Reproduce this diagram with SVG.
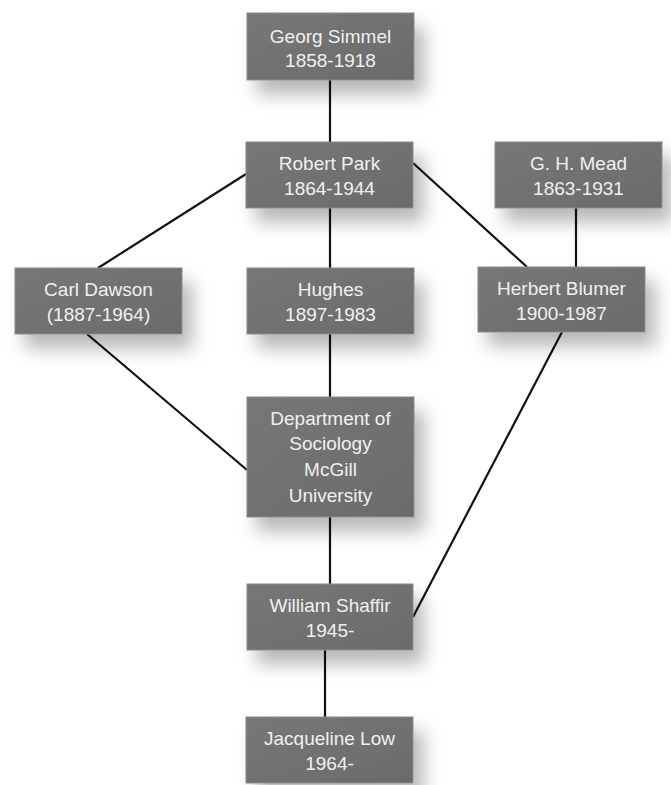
<svg xmlns="http://www.w3.org/2000/svg" width="671" height="785" viewBox="0 0 671 785">
<style>
.box{fill:url(#g);stroke:#8a8a8a;stroke-width:1;filter:url(#sh)}
.t{font-family:"Liberation Sans",Arial,sans-serif;font-size:19px;fill:#f0f0f0;text-anchor:middle}
.c line{stroke:#111;stroke-width:2.2}
</style>
<defs>
<linearGradient id="g" x1="0" y1="0" x2="1" y2="1">
<stop offset="0" stop-color="#777777"/>
<stop offset="1" stop-color="#6b6b6b"/>
</linearGradient>
<filter id="sh" x="-20%" y="-20%" width="150%" height="170%">
<feDropShadow dx="10" dy="14" stdDeviation="9" flood-color="#000" flood-opacity="0.28"/>
</filter>
</defs>
<rect width="671" height="785" fill="#fff"/>
<g class="c" id="connectors">
<line x1="330" y1="80" x2="330" y2="142"/>
<line x1="330" y1="208" x2="330" y2="268"/>
<line x1="246" y1="174" x2="98" y2="268"/>
<line x1="413" y1="163" x2="527" y2="267"/>
<line x1="576" y1="208" x2="576" y2="267"/>
<line x1="87" y1="334" x2="247" y2="470"/>
<line x1="330" y1="334" x2="330" y2="397"/>
<line x1="562" y1="332" x2="413" y2="617"/>
<line x1="330" y1="517" x2="330" y2="584"/>
<line x1="325" y1="650" x2="325" y2="717"/>
</g>
<g id="simmel"><rect class="box" x="247" y="13" width="167" height="67"/><text class="t" x="330.5" y="43">Georg Simmel</text><text class="t" x="330.5" y="67">1858-1918</text></g>
<g id="park"><rect class="box" x="246" y="142" width="167" height="66"/><text class="t" x="329.5" y="170">Robert Park</text><text class="t" x="329.5" y="195">1864-1944</text></g>
<g id="mead"><rect class="box" x="495" y="142" width="167" height="66"/><text class="t" x="578.5" y="170">G. H. Mead</text><text class="t" x="578.5" y="195">1863-1931</text></g>
<g id="dawson"><rect class="box" x="15" y="268" width="167" height="66"/><text class="t" x="98.5" y="296">Carl Dawson</text><text class="t" x="98.5" y="321">(1887-1964)</text></g>
<g id="hughes"><rect class="box" x="247" y="268" width="167" height="66"/><text class="t" x="330.5" y="296">Hughes</text><text class="t" x="330.5" y="321">1897-1983</text></g>
<g id="blumer"><rect class="box" x="478" y="267" width="167" height="65"/><text class="t" x="561.5" y="295">Herbert Blumer</text><text class="t" x="561.5" y="320">1900-1987</text></g>
<g id="mcgill"><rect class="box" x="247" y="397" width="167" height="120"/><text class="t" x="330.5" y="425">Department of</text><text class="t" x="330.5" y="450">Sociology</text><text class="t" x="330.5" y="476">McGill</text><text class="t" x="330.5" y="502">University</text></g>
<g id="shaffir"><rect class="box" x="247" y="584" width="166" height="66"/><text class="t" x="330" y="612">William Shaffir</text><text class="t" x="330" y="637">1945-</text></g>
<g id="low"><rect class="box" x="246" y="717" width="167" height="66"/><text class="t" x="329.5" y="745">Jacqueline Low</text><text class="t" x="329.5" y="770">1964-</text></g>
</svg>
